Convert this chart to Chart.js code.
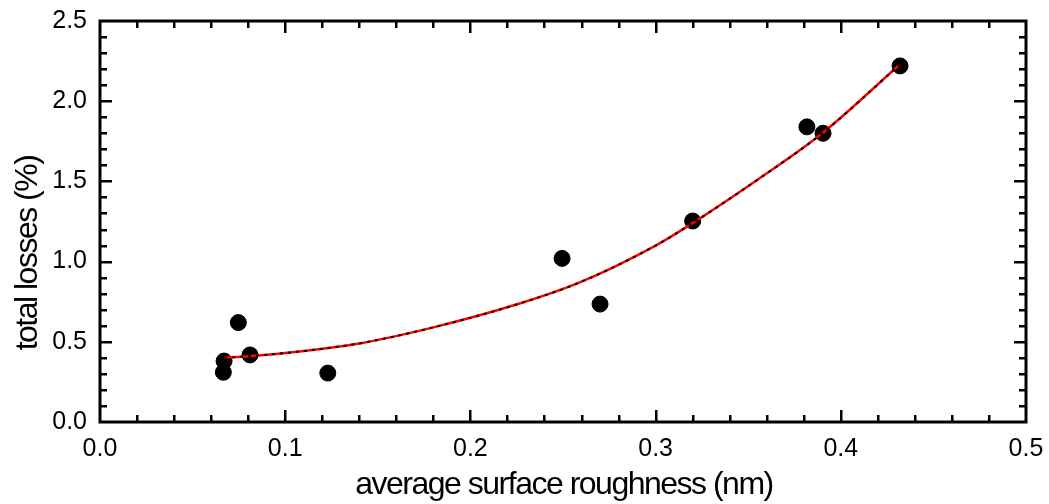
<!DOCTYPE html>
<html>
<head>
<meta charset="utf-8">
<script src="https://cdn.jsdelivr.net/npm/chart.js@4/dist/chart.umd.min.js"></script>
<style>
  html, body { margin: 0; padding: 0; background: #fff; }
  #wrap { width: 1049px; height: 504px; }
</style>
</head>
<body>
<div id="wrap"><canvas id="lossChart"></canvas></div>
<script>
// ====== DATA ======
const roughness = [0.0666, 0.067, 0.0747, 0.081, 0.123, 0.2495, 0.27, 0.32, 0.3817, 0.3904, 0.432];
const losses    = [0.31, 0.38, 0.62, 0.418, 0.305, 1.02, 0.735, 1.253, 1.84, 1.80, 2.22];

// fitted curve, read along its path
const fitX = [0.067, 0.08, 0.10, 0.14, 0.18, 0.227, 0.259, 0.30, 0.32, 0.355, 0.39, 0.432];
const fitY = [0.40, 0.41, 0.43, 0.49, 0.59, 0.74, 0.87, 1.10, 1.24, 1.51, 1.80, 2.23];

const xTitle = 'average surface roughness (nm)';
const yTitle = 'total losses (%)';

const FONT = '"Liberation Sans", Arial, sans-serif';

// ====== FRAME, INWARD TICKS, AXIS TITLES ======
const framePlugin = {
    id: 'frame',
    afterDraw(chart) {
        const ctx = chart.ctx;
        const a = chart.chartArea;
        const xs = chart.scales.x;
        const ys = chart.scales.y;
        ctx.save();
        ctx.strokeStyle = '#000';
        ctx.lineCap = 'butt';

        // minor/major ticks on all four sides
        ctx.lineWidth = 2.5;
        for (let i = 1; i < 25; i++) {
            const px = Math.round(xs.getPixelForValue(i * 0.02)) + 0.25;
            const len = i % 5 === 0 ? 12 : 7;
            ctx.beginPath();
            ctx.moveTo(px, a.bottom); ctx.lineTo(px, a.bottom - len);
            ctx.moveTo(px, a.top); ctx.lineTo(px, a.top + len);
            ctx.stroke();
        }
        for (let i = 1; i < 25; i++) {
            const py = Math.round(ys.getPixelForValue(i * 0.1)) + 0.25;
            const len = i % 5 === 0 ? 12 : 7;
            ctx.beginPath();
            ctx.moveTo(a.left, py); ctx.lineTo(a.left + len, py);
            ctx.moveTo(a.right, py); ctx.lineTo(a.right - len, py);
            ctx.stroke();
        }

        ctx.lineWidth = 3;
        ctx.strokeRect(a.left, a.top, a.right - a.left, a.bottom - a.top);

        // axis titles
        ctx.fillStyle = '#000';
        ctx.font = '32px ' + FONT;
        ctx.letterSpacing = '-1.5px';
        ctx.textAlign = 'center';
        ctx.textBaseline = 'alphabetic';
        ctx.fillText(xTitle, 564, 494);

        ctx.translate(37, 253);
        ctx.rotate(-Math.PI / 2);
        ctx.fillText(yTitle, 0, 0);
        ctx.restore();
    }
};

// keep the plot box fixed regardless of label overhang
function fixY(s) { s.width = 100; s.paddingTop = 0; s.paddingBottom = 0; }
function fixX(s) { s.height = 82; s.paddingLeft = 0; s.paddingRight = 0; }

// ====== CHART ======
function initChart() {
    const ctx = document.getElementById('lossChart').getContext('2d');
    new Chart(ctx, {
        type: 'scatter',
        data: {
            datasets: [
                {
                    data: roughness.map((x, i) => ({ x: x, y: losses[i] })),
                    backgroundColor: '#000',
                    borderColor: '#000',
                    pointRadius: 8,
                    pointHoverRadius: 8,
                    order: 3
                },
                {
                    type: 'line',
                    data: fitX.map((x, i) => ({ x: x, y: fitY[i] })),
                    borderColor: '#ff0000',
                    borderWidth: 2.5,
                    pointRadius: 0,
                    fill: false,
                    cubicInterpolationMode: 'monotone',
                    order: 2
                },
                {
                    type: 'line',
                    data: fitX.map((x, i) => ({ x: x, y: fitY[i] })),
                    borderColor: '#000',
                    borderWidth: 2,
                    borderDash: [3, 5],
                    pointRadius: 0,
                    fill: false,
                    cubicInterpolationMode: 'monotone',
                    order: 1
                }
            ]
        },
        options: {
            responsive: true,
            maintainAspectRatio: false,
            animation: false,
            layout: { padding: { top: 21, right: 23, left: 0, bottom: 0 } },
            plugins: { legend: { display: false }, tooltip: { enabled: false } },
            scales: {
                x: {
                    type: 'linear',
                    min: 0, max: 0.5,
                    grid: { display: false, drawTicks: false },
                    border: { display: false },
                    ticks: {
                        stepSize: 0.1,
                        padding: 12,
                        color: '#000',
                        font: { family: FONT, size: 25 },
                        maxRotation: 0,
                        callback: v => v.toFixed(1)
                    },
                    afterFit: fixX
                },
                y: {
                    type: 'linear',
                    min: 0, max: 2.5,
                    grid: { display: false, drawTicks: false },
                    border: { display: false },
                    ticks: {
                        stepSize: 0.5,
                        padding: 13,
                        color: '#000',
                        font: { family: FONT, size: 25 },
                        callback: v => v.toFixed(1)
                    },
                    afterFit: fixY
                }
            }
        },
        plugins: [framePlugin]
    });
}

window.onload = initChart;
</script>
</body>
</html>
